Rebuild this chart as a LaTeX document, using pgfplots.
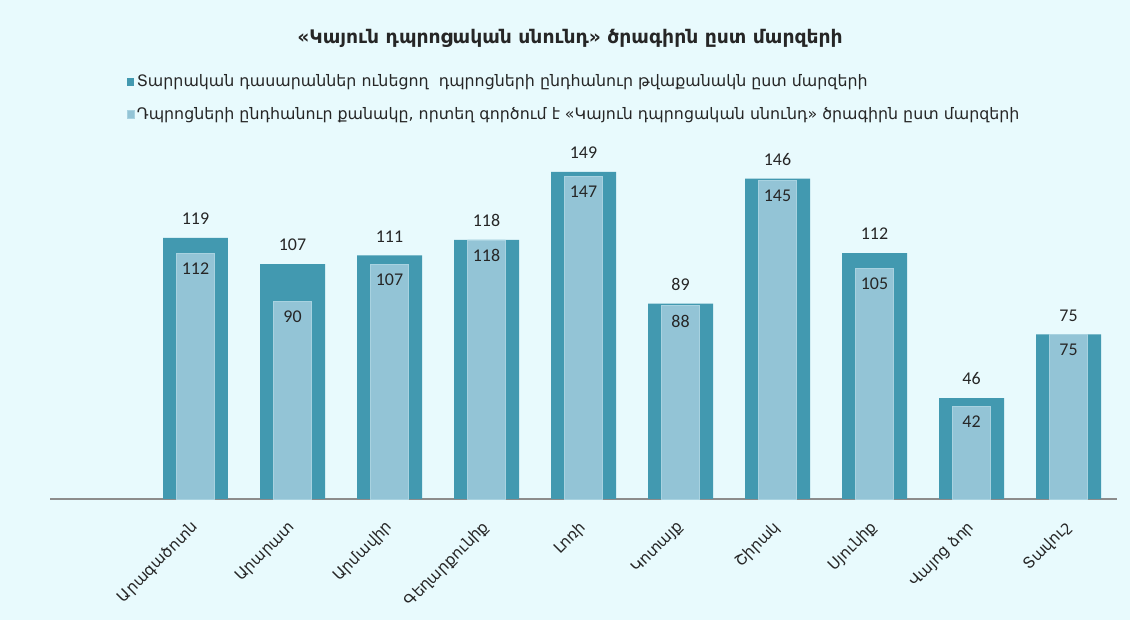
\documentclass[border=0pt]{standalone}
\usepackage{pgfplots}
\pgfplotsset{compat=1.18}
\usepackage{fontspec}
\setmainfont{DejaVu Sans}
\newfontfamily\carl{Carlito}
\definecolor{bg}{RGB}{232,250,253}
\definecolor{darkb}{RGB}{66,153,176}
\definecolor{lightb}{RGB}{147,196,214}
\definecolor{lightedge}{RGB}{168,210,224}
\begin{document}
\begin{tikzpicture}[x=1bp,y=1bp]
\fill[bg] (0,0) rectangle (1130,620);
\useasboundingbox (0,0) rectangle (1130,620);
\node[font=\bfseries\fontsize{18.8}{22}\selectfont, text=black!85] at (570,582) {«Կայուն դպրոցական սնունդ» ծրագիրն ըստ մարզերի};
\begin{axis}[
  at={(50bp,121bp)}, anchor=south west,
  scale only axis, width=1067bp, height=351.2bp,
  xmin=-0.5, xmax=10.5, ymin=0, ymax=160,
  axis y line=none,
  axis x line=bottom,
  x axis line style={-, draw=black!45, line width=1.2bp},
  ytick=\empty,
  xtick={1,...,10},
  xticklabels={Արագածոտն,Արարատ,Արմավիր,Գեղարքունիք,Լոռի,Կոտայք,Շիրակ,Սյունիք,Վայոց ձոր,Տավուշ},
  major tick length=0pt,
  xticklabel style={rotate=45, anchor=north east, inner sep=0pt, xshift=-18bp, yshift=-11bp, font=\fontsize{15.5}{18}\selectfont, text=black!85},
  ybar, bar shift=0pt,
  /pgf/number format/assume math mode=true,
  legend style={at={(0.072,1.214)}, anchor=north west, draw=none, fill=none,
    font=\fontsize{15.9}{18}\selectfont, text=black!85,
    row sep=15bp, inner sep=0pt,
    /tikz/every even column/.append style={column sep=3bp}},
  legend cell align=left,
  legend image code/.code={\fill[#1] (0bp,-4bp) rectangle (7bp,4bp);},
  clip=false,
]
\addplot[fill=darkb, draw=none, bar width=0.67,
  nodes near coords,
  every node near coord/.append style={anchor=south, inner sep=0pt, yshift=13bp, font=\carl\fontsize{18}{20}\selectfont, text=black!85}]
  coordinates {(1,119) (2,107) (3,111) (4,118) (5,149) (6,89) (7,146) (8,112) (9,46) (10,75)};
\addlegendentry{Տարրական դասարաններ ունեցող\ \ դպրոցների ընդհանուր թվաքանակն ըստ մարզերի}
\addplot[fill=lightb, draw=lightedge, line width=0.8bp, bar width=0.39,
  nodes near coords,
  every node near coord/.append style={anchor=north, inner sep=0pt, yshift=-9bp, font=\carl\fontsize{18}{20}\selectfont, text=black!85}]
  coordinates {(1,112) (2,90) (3,107) (4,118) (5,147) (6,88) (7,145) (8,105) (9,42) (10,75)};
\addlegendentry{Դպրոցների ընդհանուր քանակը, որտեղ գործում է «Կայուն դպրոցական սնունդ» ծրագիրն ըստ մարզերի}
\end{axis}
\end{tikzpicture}
\end{document}
